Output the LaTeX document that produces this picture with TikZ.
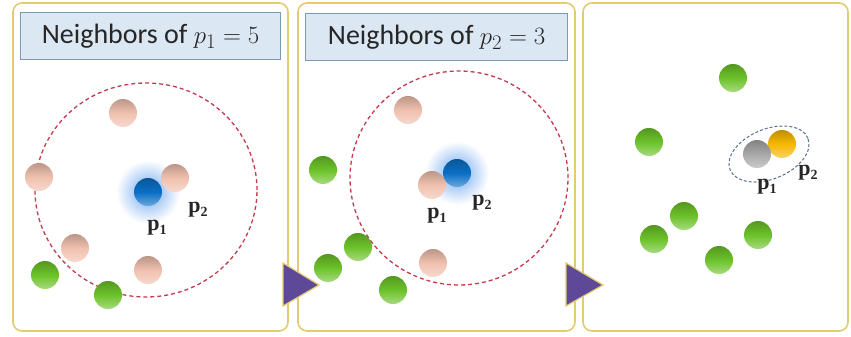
\documentclass[tikz,border=0pt]{standalone}
\usepackage{fontspec}
\setmainfont{Carlito}
\newfontfamily\lblfont{Liberation Serif}
\newcommand{\plab}[1]{{\lblfont\bfseries p\raisebox{-0.35ex}{\fontsize{14}{14}\selectfont #1}}}
\begin{document}
\begin{tikzpicture}[x=1pt,y=-1pt,
  panel/.style={draw=panelc, line width=1.6pt, rounded corners=9pt, fill=white},
  titlebox/.style={draw=titleb, line width=1.2pt, fill=titlef, inner sep=0pt, anchor=north west},
  titletext/.style={font=\fontsize{28}{32}\selectfont, text=textc},
  ball/.style={circle, minimum size=28pt, inner sep=0pt, top color=#1!78!black, bottom color=#1!60!white, middle color=#1},
  glow/.style={circle, minimum size=64pt, inner sep=0pt, shading=radial, inner color=glowc, outer color=white},
  lbl/.style={font=\fontsize{22}{24}\selectfont, inner sep=0pt, text=textc},
  ring/.style={draw=ringc, dashed, line width=1.3pt, dash pattern=on 4pt off 3pt},
  tri/.style={draw=panelc, line width=1.2pt, fill=tric}]
\definecolor{panelc}{HTML}{E3CB72}
\definecolor{titleb}{HTML}{7D98B5}
\definecolor{titlef}{HTML}{DCE7F4}
\definecolor{textc}{HTML}{262626}
\definecolor{ringc}{HTML}{C63A4E}
\definecolor{pinkc}{HTML}{F0C0AE}
\definecolor{greenc}{HTML}{6CC22A}
\definecolor{bluec}{HTML}{0A6FC4}
\definecolor{glowc}{HTML}{6FA8F0}
\definecolor{grayc}{HTML}{A8A8A8}
\definecolor{orangec}{HTML}{F6B800}
\definecolor{tric}{HTML}{5E4898}
\definecolor{ellc}{HTML}{5A6E8C}
\useasboundingbox (0,0) rectangle (851,337);
% panels
\draw[panel] (13,3) rectangle (288,331);
\draw[panel] (298,3) rectangle (575,331);
\draw[panel] (583,3) rectangle (848,331);
% titles
\node[titlebox, minimum width=260pt, minimum height=47pt] (t1) at (20,12) {};
\node[titletext] (t1t) at (t1.center) {Neighbors of $p_1 = 5$};
\node[titlebox, minimum width=262pt, minimum height=47pt] (t2) at (305,13) {};
\node[titletext] (t2t) at (t2.center) {Neighbors of $p_2 = 3$};
% panel 1
\draw[ring] (146,190) ellipse [x radius=111pt, y radius=107pt];
\node[glow] (g1) at (148,192) {};
\node[ball=pinkc] (a1) at (123,113) {};
\node[ball=pinkc] (a2) at (39,177) {};
\node[ball=pinkc] (a3) at (175,178) {};
\node[ball=bluec] (a4) at (148,192) {};
\node[ball=pinkc] (a5) at (75,248) {};
\node[ball=pinkc] (a6) at (148,270) {};
\node[ball=greenc] (a7) at (45,275) {};
\node[ball=greenc] (a8) at (108,295) {};
\node[lbl] (l1) at (157,228) {\plab{1}};
\node[lbl] (l2) at (198,210) {\plab{2}};
% panel 2
\draw[ring] (459,178) ellipse [x radius=109pt, y radius=107pt];
\node[glow] (g2) at (457,173) {};
\node[ball=pinkc] (b1) at (408,110) {};
\node[ball=greenc] (b2) at (323,170) {};
\node[ball=pinkc] (b3) at (432,185) {};
\node[ball=bluec] (b4) at (457,173) {};
\node[ball=greenc] (b5) at (358,247) {};
\node[ball=greenc] (b6) at (328,268) {};
\node[ball=pinkc] (b7) at (433,263) {};
\node[ball=greenc] (b8) at (393,290) {};
\node[lbl] (m1) at (437,216) {\plab{1}};
\node[lbl] (m2) at (482,203) {\plab{2}};
% panel 3
\draw[draw=ellc, dashed, line width=1pt, dash pattern=on 3pt off 2pt, rotate around={22:(769,154)}] (769,154) ellipse [x radius=42pt, y radius=25pt];
\node[ball=greenc] (c1) at (733,78) {};
\node[ball=greenc] (c2) at (649,142) {};
\node[ball=orangec] (c4) at (782,144) {};
\node[ball=grayc] (c3) at (757,154) {};
\node[ball=greenc] (c5) at (684,216) {};
\node[ball=greenc] (c6) at (654,239) {};
\node[ball=greenc] (c7) at (758,235) {};
\node[ball=greenc] (c8) at (719,260) {};
\node[lbl] (n1) at (767,187) {\plab{1}};
\node[lbl] (n2) at (808,173) {\plab{2}};
% arrows
\draw[tri] (283,263) -- (319,285) -- (283,306) -- cycle;
\draw[tri] (566,263) -- (603,285) -- (566,306) -- cycle;
\end{tikzpicture}
\end{document}
